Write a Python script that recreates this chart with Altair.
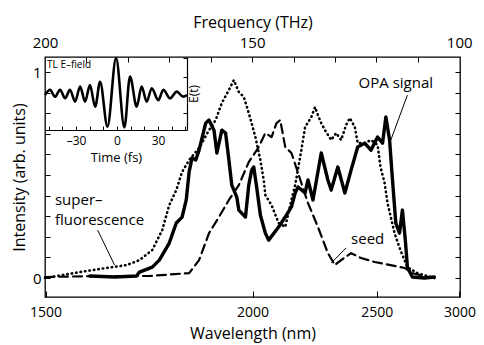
import altair as alt
import pandas as pd

FONT = "Open Sans"
C = 299792.458  # nm*THz

# ---------------- data (frequency in THz, intensity in arb. units) ----------------
sf_freq = [200.0, 191.6, 185.1, 180.3, 177.2, 174.1, 171.7, 170.0, 168.3, 166.9, 165.2, 162.8,
           160.4, 158.8, 157.3, 155.6, 154.4, 153.2, 152.0, 150.8, 149.2, 148.0, 147.2, 146.8,
           145.3, 143.6, 142.0, 140.5, 139.6, 138.1, 137.2, 135.7, 134.8, 134.1, 133.3, 132.4,
           130.9, 129.7, 128.5, 127.3, 126.4, 125.2, 124.5, 122.8, 121.3, 119.7, 119.0, 118.0,
           117.3, 115.6, 114.2, 112.5, 110.1, 106.0]
sf_int = [0.0, 0.029, 0.049, 0.063, 0.087, 0.136, 0.233, 0.354, 0.427, 0.515, 0.573, 0.631,
          0.718, 0.767, 0.850, 0.913, 0.961, 0.903, 0.879, 0.801, 0.684, 0.573, 0.476, 0.403,
          0.354, 0.267, 0.248, 0.379, 0.451, 0.621, 0.733, 0.782, 0.830, 0.791, 0.752, 0.718,
          0.670, 0.704, 0.670, 0.743, 0.777, 0.733, 0.655, 0.655, 0.670, 0.646, 0.539, 0.461,
          0.364, 0.218, 0.136, 0.053, 0.024, 0.0]

opa_freq = [189.2, 183.2, 177.9, 177.2, 174.1, 172.4, 170.0, 168.3, 166.9, 165.9, 165.2, 164.5,
            163.6, 162.8, 161.2, 160.4, 159.2, 158.5, 157.3, 156.4, 155.6, 154.9, 153.7, 153.2,
            151.6, 150.8, 150.1, 149.6, 148.9, 148.0, 146.8, 146.0, 143.6, 142.0, 140.5, 139.6,
            138.9, 137.2, 136.5, 135.3, 133.3, 131.7, 130.9, 129.3, 127.6, 126.1, 124.5, 122.8,
            121.3, 119.7, 118.5, 117.7, 116.8, 116.1, 115.3, 114.4, 113.7, 113.0, 112.5, 111.3,
            108.4, 106.0]
opa_int = [0.010, 0.005, 0.010, 0.029, 0.053, 0.087, 0.170, 0.267, 0.296, 0.379, 0.515, 0.583,
           0.573, 0.621, 0.752, 0.767, 0.718, 0.607, 0.718, 0.704, 0.573, 0.451, 0.393, 0.330,
           0.296, 0.451, 0.524, 0.539, 0.442, 0.306, 0.218, 0.184, 0.248, 0.296, 0.345, 0.413,
           0.442, 0.413, 0.476, 0.379, 0.607, 0.476, 0.427, 0.539, 0.413, 0.524, 0.636, 0.655,
           0.621, 0.684, 0.655, 0.782, 0.670, 0.476, 0.267, 0.218, 0.330, 0.184, 0.053, 0.005,
           0.0, 0.005]

seed_freq = [200.0, 186.8, 174.8, 165.2, 162.8, 160.4, 158.0, 155.6, 153.2, 150.8, 148.4, 146.8,
             145.3, 144.1, 143.2, 142.0, 140.5, 138.9, 136.5, 134.1, 131.7, 130.0, 128.5, 126.1,
             123.7, 120.4, 116.6, 113.2, 111.3, 107.7]
seed_int = [0.005, 0.010, 0.010, 0.024, 0.087, 0.218, 0.296, 0.379, 0.451, 0.563, 0.636, 0.704,
            0.684, 0.752, 0.767, 0.636, 0.607, 0.510, 0.364, 0.248, 0.121, 0.063, 0.087, 0.121,
            0.097, 0.078, 0.063, 0.049, 0.024, 0.005]

# inset: transform-limited E-field
tl_time = [-52.7, -49.0, -45.4, -41.7, -38.0, -34.4, -30.7, -27.0, -23.4, -19.8, -16.0, -12.4,
           -7.0, -0.7, 5.4, 9.5, 14.4, 18.0, 21.7, 25.4, 30.2, 33.9, 38.8, 43.7, 48.5, 51.2]
tl_field = [0.0, 0.14, -0.05, 0.14, -0.09, 0.14, -0.18, 0.23, -0.18, 0.27, -0.32, 0.36,
            -0.86, 1.0, -0.88, 0.5, -0.32, 0.23, -0.18, 0.18, -0.14, 0.14, -0.09, 0.09, -0.05, 0.0]

# tick labels
wl_ticks = [1500, 2000, 2500, 3000]
freq_labels = [200, 150, 100]
freq_minor = [190, 180, 170, 160, 150, 140, 130, 120, 110]
int_labels = [0, 1]
int_minor = [0, 0.1, 0.2, 0.3, 0.4, 0.5, 0.6, 0.7, 0.8, 0.9, 1.0]
time_labels = [-30, 0, 30]
time_ticks = [-50, -40, -30, -20, -10, 0, 10, 20, 30, 40, 50]
field_ticks = [-0.5, 0, 0.5, 1]

# annotations (data coordinates)
ann_text = ["OPA signal", "seed"]
ann_f = [115.3, 122.1]
ann_v = [0.947, 0.189]
sf_text = ["super\u2013\nfluorescence"]
sf_f = [197.6]
sf_v = [0.354]
lead_f1 = [112.5, 127.3, 187.3]
lead_v1 = [0.888, 0.146, 0.233]
lead_f2 = [116.5, 130.9, 183.2]
lead_v2 = [0.670, 0.073, 0.063]

# ---------------- geometry ----------------
W, H = 415, 240
Y0, Y1 = -0.092, 1.073
INSET_W, INSET_H = 142, 73

wl_freqs = [C / w for w in wl_ticks]

xs = alt.Scale(domain=[200, 99.8], nice=False, zero=False)
ys = alt.Scale(domain=[Y0, Y1], nice=False, zero=False)

ax_bottom = alt.Axis(orient="bottom", values=wl_freqs, ticks=False, domain=False, grid=False,
                     labelExpr="format(round(299792.458 / datum.value / 100) * 100, 'd')",
                     labelFlush=False, labelOverlap=False, labelPadding=8, labelFontSize=14,
                     title="Wavelength (nm)", titlePadding=6)
ax_left = alt.Axis(orient="left", values=int_labels, ticks=False, domain=False, grid=False,
                   format="d", labelPadding=4, labelFlush=False,
                   title="Intensity (arb. units)", titlePadding=5)

df_sf = pd.DataFrame({"f": sf_freq, "v": sf_int})
df_opa = pd.DataFrame({"f": opa_freq, "v": opa_int})
df_seed = pd.DataFrame({"f": seed_freq, "v": seed_int})


def X(field):
    return alt.X(field, scale=xs, axis=ax_bottom)


def Y(field):
    return alt.Y(field, scale=ys, axis=ax_left)


def curve(df, dash, width):
    kw = dict(stroke="black", strokeWidth=width, strokeCap="round", strokeJoin="round")
    if dash:
        kw["strokeDash"] = dash
    return alt.Chart(df).mark_line(**kw).encode(x=X("f:Q"), y=Y("v:Q"))


sf_line = curve(df_sf, [0.5, 4], 2.6)
seed_line = curve(df_seed, [9, 5], 2.2)
opa_line = curve(df_opa, None, 3.4)

df_ann = pd.DataFrame({"t": ann_text, "f": ann_f, "v": ann_v})
ann_c = alt.Chart(df_ann).mark_text(
    font=FONT, fontSize=15, color="black", align="center", baseline="middle").encode(
    x=X("f:Q"), y=Y("v:Q"), text="t:N")

df_sft = pd.DataFrame({"t": sf_text, "f": sf_f, "v": sf_v})
ann_sf = alt.Chart(df_sft).mark_text(
    font=FONT, fontSize=15, color="black", align="left", baseline="alphabetic",
    lineBreak="\n", lineHeight=20).encode(
    x=X("f:Q"), y=Y("v:Q"), text="t:N")

df_lead = pd.DataFrame({"f1": lead_f1, "v1": lead_v1, "f2": lead_f2, "v2": lead_v2})
leaders = alt.Chart(df_lead).mark_rule(color="black", strokeWidth=1).encode(
    x=X("f1:Q"), y=Y("v1:Q"), x2="f2:Q", y2="v2:Q")

main = alt.layer(sf_line, seed_line, opa_line, leaders, ann_c, ann_sf)

# helper frame for axis-only layers
df_frame = pd.DataFrame({"f": [200, 100], "v": [Y0, Y1]})

top_labels = alt.Chart(df_frame).mark_point(opacity=0).encode(
    x=alt.X("f:Q", scale=xs, axis=alt.Axis(orient="top", values=freq_labels, ticks=False,
                                            domain=False, grid=False, labelFlush=False,
                                            labelOverlap=False, labelPadding=7,
                                            title="Frequency (THz)", titlePadding=5)),
    y=alt.Y("v:Q", scale=ys, axis=alt.Axis(orient="left", offset=-W, values=int_minor,
                                            labels=False, domain=False, grid=False,
                                            ticks=True, tickSize=5, title=None)),
)

ticks_a = alt.Chart(df_frame).mark_point(opacity=0).encode(
    x=alt.X("f:Q", scale=xs, axis=alt.Axis(orient="top", offset=-H, values=wl_freqs,
                                            labels=False, domain=False, grid=False,
                                            ticks=True, tickSize=6, title=None)),
    y=alt.Y("v:Q", scale=ys, axis=alt.Axis(orient="right", offset=-W, values=int_minor,
                                            labels=False, domain=False, grid=False,
                                            ticks=True, tickSize=5, title=None)),
)

ticks_b = alt.Chart(df_frame).mark_point(opacity=0).encode(
    x=alt.X("f:Q", scale=xs, axis=alt.Axis(orient="bottom", offset=-H, values=freq_minor,
                                            labels=False, domain=False, grid=False,
                                            ticks=True, tickSize=5, title=None)),
)

# ---------------- inset ----------------
txs = alt.Scale(domain=[-52.7, 51.2], range=[0, INSET_W], nice=False, zero=False)
tys = alt.Scale(domain=[-0.95, 1.03], range=[INSET_H, 0], nice=False, zero=False)

df_tl = pd.DataFrame({"t": tl_time, "e": tl_field})
inset_line = alt.Chart(df_tl).mark_line(stroke="black", strokeWidth=2.6,
                                         interpolate="monotone").encode(
    x=alt.X("t:Q", scale=txs, axis=alt.Axis(
        orient="bottom", offset=-(H - INSET_H), values=time_labels, ticks=False,
        domain=True, domainColor="black", domainWidth=1.2, grid=False,
        labelExpr="datum.value < 0 ? '\u2013' + abs(datum.value) : '' + datum.value",
        labelFontSize=12, labelPadding=5, labelFlush=False, labelOverlap=False,
        title="Time (fs)", titleFontSize=13, titlePadding=5)),
    y=alt.Y("e:Q", scale=tys, axis=alt.Axis(
        orient="right", offset=-(W - INSET_W), values=field_ticks, ticks=False, labels=False,
        domain=True, domainColor="black", domainWidth=1.2, grid=False,
        title="E(t)", titleFontSize=12, titleAngle=270, titlePadding=13)),
)

inset_label = alt.Chart(pd.DataFrame({"t": [-51.2], "e": [0.82], "s": ["TL E\u2013field"]})).mark_text(
    font=FONT, fontSize=10, align="left", baseline="middle", color="black").encode(
    x=alt.X("t:Q", scale=txs), y=alt.Y("e:Q", scale=tys), text="s:N")

inset_main = alt.layer(inset_line, inset_label)

inset_ticks = alt.Chart(pd.DataFrame({"t": [-52.7, 51.2], "e": [-0.95, 1.03]})).mark_point(opacity=0).encode(
    x=alt.X("t:Q", scale=txs, axis=alt.Axis(orient="top", offset=-INSET_H, values=time_ticks,
                                             labels=False, domain=False, grid=False,
                                             ticks=True, tickSize=4, title=None)),
    y=alt.Y("e:Q", scale=tys, axis=alt.Axis(orient="left", offset=-INSET_W, values=field_ticks,
                                             labels=False, domain=False, grid=False,
                                             ticks=True, tickSize=4, title=None)),
)

chart = alt.layer(main, top_labels, ticks_a, ticks_b, inset_main, inset_ticks).resolve_scale(
    x="independent", y="independent"
).properties(
    width=W, height=H,
    autosize=alt.AutoSizeParams(type="none"),
    padding={"left": 37, "top": 49, "right": 16, "bottom": 48},
    background="white",
).configure_view(
    stroke="black", strokeWidth=1.3
).configure_axis(
    labelFont=FONT, titleFont=FONT, labelFontSize=15, titleFontSize=16,
    labelColor="black", titleColor="black", tickColor="black", domainColor="black",
    titleFontWeight="normal", tickWidth=1,
)

chart.save("out.html", embed_options={"renderer": "svg", "actions": False})
